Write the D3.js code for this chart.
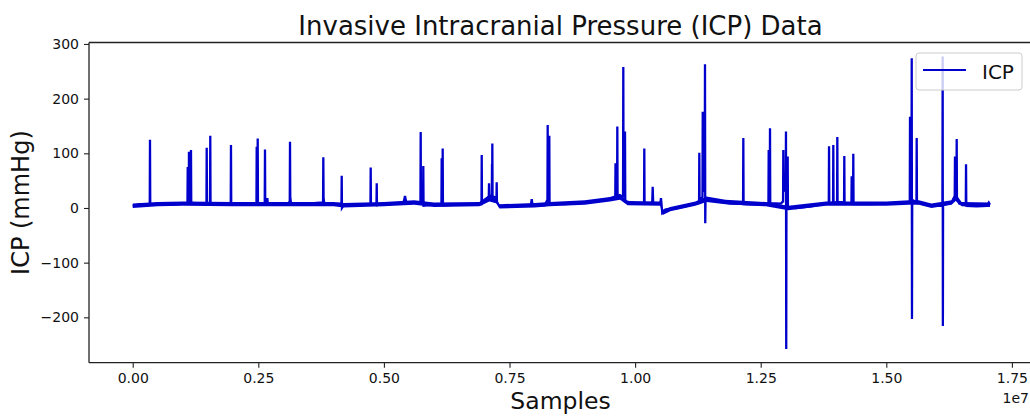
<!DOCTYPE html>
<html>
<head>
<meta charset="utf-8">
<script src="https://cdn.jsdelivr.net/npm/d3@7"></script>
<style>
  body { margin: 0; background: #fff; }
  svg { display: block; }
</style>
</head>
<body>
<div id="chart"></div>
<script>
// ============================================================
// DATA
// ============================================================
const seriesName = 'ICP';
const yTicks = [-200, -100, 0, 100, 200, 300];
const xTicks = [0, 2500000, 5000000, 7500000, 10000000, 12500000, 15000000, 17500000];

// [sample, mmHg] — baseline plus the spikes
const icpTrace = [
  [0, 4], [150000, 7], [339000, 7], [344000, 125], [349000, 7], [600000, 8], [800000, 6],
  [1000000, 8], [1090000, 9], [1095000, 75], [1110000, 70], [1115000, 20], [1120000, 103],
  [1125000, 12], [1155000, 12], [1160000, 106], [1165000, 10], [1300000, 8], [1468000, 8],
  [1473000, 110], [1478000, 8], [1539000, 9], [1544000, 132], [1549000, 9], [1700000, 8],
  [1800000, 9], [1951000, 8], [1956000, 115], [1961000, 6], [2200000, 7], [2463000, 8],
  [2468000, 112], [2473000, 10], [2483000, 10], [2488000, 127], [2493000, 9], [2628000, 9],
  [2633000, 107], [2638000, 8], [2670000, 8], [2680000, 18], [2690000, 6], [2900000, 7],
  [3100000, 9], [3126000, 12], [3131000, 121], [3136000, 20], [3150000, 9], [3400000, 8],
  [3600000, 9], [3789000, 10], [3794000, 93], [3799000, 18], [3815000, 8], [4000000, 7],
  [4155000, 8], [4160000, 59], [4165000, 0], [4200000, 5], [4400000, 6], [4600000, 7],
  [4732000, 7], [4737000, 74], [4742000, 6], [4852000, 7], [4857000, 45], [4862000, 5],
  [5000000, 7], [5300000, 9], [5390000, 9], [5420000, 22], [5450000, 8], [5600000, 10],
  [5727000, 10], [5732000, 139], [5737000, 12], [5779000, 10], [5784000, 77], [5789000, 4],
  [6000000, 6], [6145000, 6], [6150000, 91], [6155000, 20], [6165000, 20], [6170000, 109],
  [6175000, 5], [6500000, 6], [6800000, 6], [6942000, 7], [6947000, 97], [6952000, 8],
  [7050000, 15], [7087000, 18], [7092000, 45], [7097000, 22], [7148000, 22], [7152000, 80],
  [7155000, 30], [7158000, 118], [7163000, 22], [7240000, 18], [7245000, 47], [7250000, 10],
  [7300000, 3], [7500000, 4], [7700000, 5], [7925000, 5], [7942000, 16], [7960000, 5],
  [8200000, 5], [8255000, 15], [8260000, 152], [8265000, 15], [8288000, 12], [8292000, 132],
  [8297000, 8], [8600000, 7], [9000000, 10], [9300000, 13], [9550000, 16], [9605000, 18],
  [9610000, 82], [9615000, 22], [9641000, 22], [9646000, 149], [9651000, 22], [9760000, 22],
  [9765000, 258], [9770000, 22], [9794000, 22], [9799000, 140], [9804000, 12], [10000000, 9],
  [10178000, 9], [10183000, 109], [10188000, 8], [10340000, 8], [10350000, 39], [10360000, 9],
  [10500000, 8], [10515000, 18], [10525000, 8], [10540000, -9], [10600000, -3],
  [10800000, -1], [11000000, 3], [11200000, 8], [11273000, 9], [11278000, 101],
  [11283000, 15], [11341000, 20], [11346000, 176], [11351000, 30], [11386000, 40],
  [11391000, 263], [11396000, -28], [11402000, 18], [11500000, 15], [11700000, 11],
  [11900000, 8], [12149000, 8], [12154000, 128], [12159000, 7], [12400000, 6], [12600000, 7],
  [12654000, 10], [12659000, 106], [12664000, 12], [12680000, 12], [12685000, 146],
  [12690000, 9], [12900000, 8], [12945000, 12], [12950000, 106], [12955000, 30],
  [12998000, 40], [13003000, 140], [13008000, -258], [13013000, 20], [13032000, 20],
  [13037000, 94], [13042000, 2], [13200000, 0], [13500000, 3], [13800000, 8], [13855000, 9],
  [13860000, 113], [13865000, 10], [13940000, 9], [13945000, 115], [13950000, 10],
  [14020000, 10], [14025000, 130], [14030000, 11], [14159000, 10], [14164000, 95],
  [14169000, 9], [14306000, 8], [14311000, 58], [14316000, 15], [14338000, 15],
  [14343000, 99], [14348000, 7], [14700000, 7], [15000000, 8], [15300000, 9], [15467000, 10],
  [15472000, 167], [15477000, 15], [15501000, 20], [15506000, 274], [15511000, -203],
  [15516000, 15], [15600000, 10], [15605000, 128], [15610000, 12], [15750000, 6],
  [15900000, 4], [16117000, 4], [16122000, 277], [16126000, -216], [16130000, 5],
  [16300000, 10], [16350000, 20], [16362000, 20], [16367000, 94], [16372000, 18],
  [16396000, 18], [16401000, 126], [16406000, 20], [16450000, 8], [16582000, 5],
  [16587000, 80], [16592000, 4], [16800000, 3], [17000000, 4], [17040000, 10], [17064000, 6]
];

// [sample, low, high] — spread of the noisy baseline
const noiseBand = [
  [0, 0, 8], [500000, 3, 11], [1000000, 4, 12], [2000000, 3, 11], [3000000, 3, 11],
  [4000000, 3, 11], [4200000, 1, 9], [5000000, 3, 11], [5600000, 6, 14], [6000000, 2, 10],
  [6900000, 3, 11], [7100000, 12, 24], [7250000, 8, 16], [7300000, -1, 7], [8000000, 1, 9],
  [8300000, 3, 11], [9000000, 6, 14], [9500000, 12, 20], [9700000, 15, 26], [9850000, 5, 13],
  [10500000, 4, 12], [10550000, -13, -3], [10700000, -6, 2], [11200000, 4, 12],
  [11420000, 11, 21], [11800000, 7, 15], [12600000, 3, 11], [13050000, -4, 4],
  [13800000, 4, 12], [15000000, 4, 12], [15450000, 6, 14], [15650000, 6, 14],
  [15900000, 0, 8], [16300000, 6, 14], [16380000, 13, 25], [16500000, 3, 11],
  [17064000, 2, 10]
];

// ============================================================
// CHART
// ============================================================
const W = 1030, H = 416;
const blue = '#0000cd';
const font = '"DejaVu Sans", Arial, sans-serif';
const box = { left: 89, right: 1032, top: 42.5, bottom: 362.7 };

const svg = d3.select('#chart').append('svg')
  .attr('width', W).attr('height', H);

const x = d3.scaleLinear().domain([-870000, 17900000]).range([box.left, box.right]);
const y = d3.scaleLinear().domain([-283, 302.7]).range([box.bottom, box.top]);

svg.append('clipPath').attr('id', 'plot-clip')
  .append('rect')
  .attr('x', box.left).attr('y', box.top)
  .attr('width', box.right - box.left).attr('height', box.bottom - box.top);

const plot = svg.append('g').attr('clip-path', 'url(#plot-clip)');

// ---- noise band ----
plot.append('path')
  .datum(noiseBand)
  .attr('fill', blue)
  .attr('d', d3.area().x(d => x(d[0])).y0(d => y(d[1])).y1(d => y(d[2])));

// ---- trace ----
plot.append('path')
  .datum(icpTrace)
  .attr('fill', 'none')
  .attr('stroke', blue)
  .attr('stroke-width', 2.3)
  .attr('d', d3.line().x(d => x(d[0])).y(d => y(d[1])));

// ---- spines ----
const spine = svg.append('g').attr('stroke', '#222').attr('stroke-width', 1.3).attr('fill', 'none');
spine.append('path').attr('d', `M${box.left},${box.top}H${box.right}`);
spine.append('path').attr('d', `M${box.left},${box.bottom}H${box.right}`);
spine.append('path').attr('d', `M${box.left},${box.top}V${box.bottom}`);

// ---- axes ----
const fmtY = d => (d < 0 ? '\u2212' + Math.abs(d) : String(d));

svg.append('g')
  .attr('transform', `translate(0,${box.bottom})`)
  .call(d3.axisBottom(x).tickValues(xTicks).tickSize(5).tickPadding(5)
    .tickFormat(d => (d / 1e7).toFixed(2)))
  .call(g => g.select('.domain').remove())
  .call(g => g.selectAll('line').attr('stroke', '#222').attr('stroke-width', 1.1))
  .call(g => g.selectAll('text').attr('fill', '#111')
    .style('font-family', font).style('font-size', '14px'));

svg.append('g')
  .attr('transform', `translate(${box.left},0)`)
  .call(d3.axisLeft(y).tickValues(yTicks).tickSize(5).tickPadding(5).tickFormat(fmtY))
  .call(g => g.select('.domain').remove())
  .call(g => g.selectAll('line').attr('stroke', '#222').attr('stroke-width', 1.1))
  .call(g => g.selectAll('text').attr('fill', '#111')
    .style('font-family', font).style('font-size', '14px'));

// ---- offset label ----
svg.append('text')
  .attr('x', 1029).attr('y', 403)
  .attr('text-anchor', 'end')
  .style('font-family', font).style('font-size', '14px').style('fill', '#111')
  .text('1e7');

// ---- title & labels ----
svg.append('text')
  .attr('x', (box.left + box.right) / 2).attr('y', 35)
  .attr('text-anchor', 'middle')
  .style('font-family', font).style('font-size', '26px').style('fill', '#111')
  .text('Invasive Intracranial Pressure (ICP) Data');

svg.append('text')
  .attr('x', (box.left + box.right) / 2).attr('y', 409)
  .attr('text-anchor', 'middle')
  .style('font-family', font).style('font-size', '23.5px').style('fill', '#111')
  .text('Samples');

svg.append('text')
  .attr('transform', `translate(29,${(box.top + box.bottom) / 2}) rotate(-90)`)
  .attr('text-anchor', 'middle')
  .style('font-family', font).style('font-size', '24px').style('fill', '#111')
  .text('ICP (mmHg)');

// ---- legend ----
const lg = svg.append('g').attr('transform', 'translate(916,53)');
lg.append('rect')
  .attr('width', 106).attr('height', 37).attr('rx', 3)
  .attr('fill', '#fff').attr('fill-opacity', 0.8)
  .attr('stroke', '#ccc').attr('stroke-width', 1);
lg.append('line')
  .attr('x1', 7).attr('x2', 50).attr('y1', 17).attr('y2', 17)
  .attr('stroke', blue).attr('stroke-width', 2);
lg.append('text')
  .attr('x', 66).attr('y', 25.5)
  .style('font-family', font).style('font-size', '20px').style('fill', '#111')
  .text(seriesName);
</script>
</body>
</html>
